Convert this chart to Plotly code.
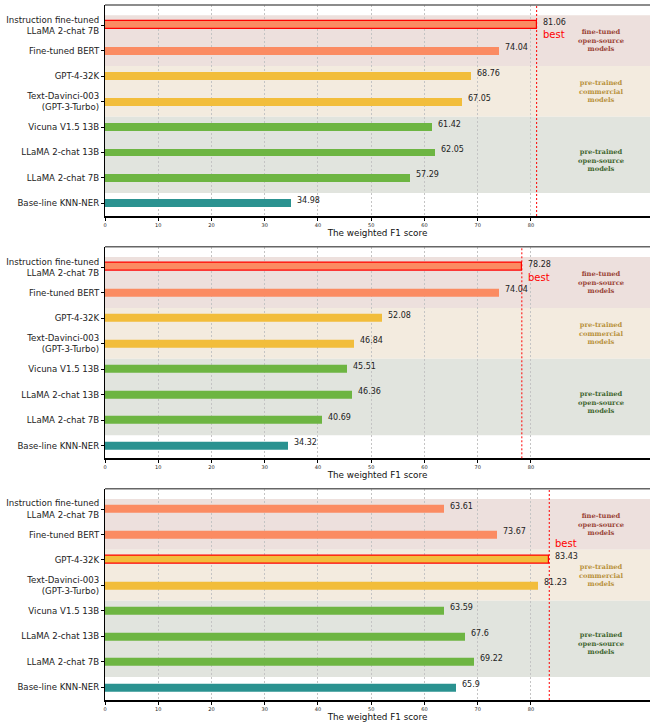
import plotly.graph_objects as go
from plotly.subplots import make_subplots

categories = ["Instruction fine-tuned<br>LLaMA 2-chat 7B", "Fine-tuned BERT", "GPT-4-32K",
              "Text-Davinci-003<br>(GPT-3-Turbo)", "Vicuna V1.5 13B", "LLaMA 2-chat 13B",
              "LLaMA 2-chat 7B", "Base-line KNN-NER"]
panel1_scores = [81.06, 74.04, 68.76, 67.05, 61.42, 62.05, 57.29, 34.98]
panel2_scores = [78.28, 74.04, 52.08, 46.84, 45.51, 46.36, 40.69, 34.32]
panel3_scores = [63.61, 73.67, 83.43, 81.23, 63.59, 67.6, 69.22, 65.9]
panels = [panel1_scores, panel2_scores, panel3_scores]

x_ticks = [0, 10, 20, 30, 40, 50, 60, 70, 80]
x_title = "The weighted F1 score"

group_names = ["fine-tuned<br>open-source<br>models",
               "pre-trained<br>commercial<br>models",
               "pre-trained<br>open-source<br>models"]
group_spans = [(-0.4, 1.6), (1.6, 3.6), (3.6, 6.6)]
group_label_y = [0.6, 2.6, 5.3]
group_band_colors = ["#EDE0DD", "#F3EBDF", "#E1E4DE"]
group_text_colors = ["#9A4538", "#B8913C", "#3F6630"]

bar_colors = ["#FB8B62", "#FB8B62", "#F2BD3B", "#F2BD3B", "#6DB542", "#6DB542", "#6DB542", "#2A9290"]
best_label_shift = [-9, -10, 16]   # pixel offset of "best" text relative to best bar

fig = make_subplots(rows=3, cols=1, vertical_spacing=0.0)

H = 722
top_m, bot_m = 5, 22
plot_h = H - top_m - bot_m
panel_px = [(5, 216), (246.7, 458.3), (488.7, 700)]
xmax = 102.35
ypos = list(range(len(categories)))

for i, scores in enumerate(panels):
    r = i + 1
    best = max(range(len(scores)), key=lambda k: scores[k])
    line_cols = ["red" if k == best else "rgba(0,0,0,0)" for k in range(len(scores))]
    line_w = [1.2 if k == best else 0 for k in range(len(scores))]
    fig.add_trace(go.Bar(x=scores, y=ypos, orientation="h", width=0.31,
                         marker=dict(color=bar_colors, line=dict(color=line_cols, width=line_w)),
                         showlegend=False, hoverinfo="skip"), row=r, col=1)
    xa = "x" if r == 1 else f"x{r}"
    ya = "y" if r == 1 else f"y{r}"
    top, bot = panel_px[i]
    d0 = (H - bot_m - bot) / plot_h
    d1 = (H - bot_m - top) / plot_h
    fig.update_yaxes(domain=[d0, min(d1, 1)], range=[7.5, -0.8], tickvals=ypos, ticktext=categories,
                     ticks="outside", ticklen=3, tickcolor="black", showline=True, linecolor="black",
                     linewidth=1.2, showgrid=False, zeroline=False,
                     tickfont=dict(family="DejaVu Sans", size=8.6, color="#222"), row=r, col=1)
    fig.update_xaxes(range=[0, xmax], tickvals=x_ticks, ticks="outside", ticklen=3, tickcolor="black",
                     showline=True, linecolor="black", linewidth=1.5, showgrid=True,
                     gridcolor="#C4C4C4", griddash="2px,2px", gridwidth=1, zeroline=False,
                     tickfont=dict(family="DejaVu Sans", size=5, color="#222"),
                     title=dict(text=x_title, font=dict(family="DejaVu Sans", size=8.8, color="#111"),
                                standoff=1),
                     automargin=False, row=r, col=1)
    # group bands
    for g, (y0, y1) in enumerate(group_spans):
        fig.add_shape(type="rect", xref=f"{xa} domain", yref=ya, x0=0, x1=1, y0=y0, y1=y1,
                      fillcolor=group_band_colors[g], line_width=0, layer="below")
        fig.add_annotation(xref=xa, yref=ya, x=93.1, y=group_label_y[g], text=f"<b>{group_names[g]}</b>",
                           showarrow=False, xanchor="center", yanchor="middle",
                           font=dict(family="DejaVu Serif", size=6.7, color=group_text_colors[g]))
    # top spine
    fig.add_shape(type="line", xref=f"{xa} domain", yref=f"{ya} domain", x0=0, x1=1, y0=1, y1=1,
                  line=dict(color="#666", width=1.5))
    # best line
    fig.add_shape(type="line", xref=xa, yref=f"{ya} domain", x0=scores[best], x1=scores[best], y0=0, y1=1,
                  line=dict(color="red", width=1, dash="2px,2px"))
    # value labels
    for k, v in enumerate(scores):
        fig.add_annotation(xref=xa, yref=ya, x=v, y=k, text=str(v), showarrow=False,
                           xanchor="left", yanchor="middle", xshift=4, yshift=3,
                           font=dict(family="DejaVu Sans", size=8, color="#222"))
    fig.add_annotation(xref=xa, yref=ya, x=scores[best], y=best, text="best", showarrow=False,
                       xanchor="left", yanchor="middle", xshift=4, yshift=best_label_shift[i],
                       font=dict(family="DejaVu Sans", size=10, color="red"))

fig.update_layout(width=650, height=H, template="none",
                  margin=dict(l=105, r=0, t=top_m, b=bot_m),
                  plot_bgcolor="white", paper_bgcolor="white", bargap=0)

fig.write_html("out.html", config={"displayModeBar": False},
               post_script="document.body.style.margin='0px';document.body.style.overflow='hidden';")
